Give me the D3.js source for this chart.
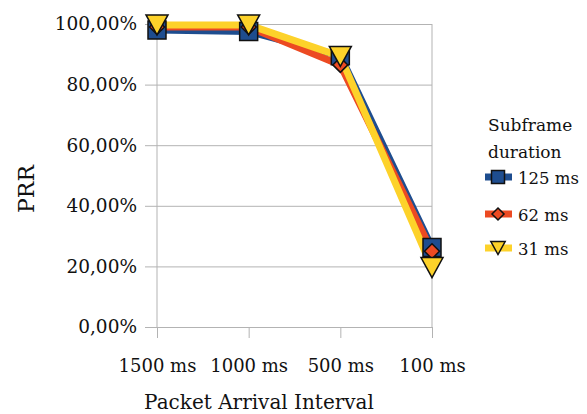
<!DOCTYPE html>
<html><head><meta charset="utf-8">
<script src="https://cdn.jsdelivr.net/npm/d3@7"></script>
<style>body{margin:0;background:#fff}svg{display:block}text{font-family:"DejaVu Serif",serif;fill:#111}</style>
</head><body>
<svg id="c" width="587" height="414"></svg>
<script>
const categories = ["1500 ms","1000 ms","500 ms","100 ms"];
const yTicks = [0,0.2,0.4,0.6,0.8,1.0];
const seriesNames = ["125 ms","62 ms","31 ms"];
const s125 = [0.980, 0.975, 0.895, 0.262];
const s62  = [0.990, 0.990, 0.865, 0.250];
const s31  = [0.997, 0.997, 0.893, 0.196];
const colors = ["#1e4d8f","#ec4a22","#fdd22a"];
const shapes = ["square","diamond","triangle"];
const allSeries = [s125, s62, s31];

const svg = d3.select("#c");
const x = d3.scalePoint().domain(categories).range([157, 432]).padding(0);
const y = d3.scaleLinear().domain([0,1]).range([327, 24]);
const fmt = v => d3.format(".2f")(v*100).replace(".", ",") + "%";

const yAx = d3.axisLeft(y).tickValues(yTicks).tickSize(12).tickFormat(fmt).tickPadding(8);
const gy = svg.append("g").attr("transform","translate(157,0)").call(yAx);
gy.select(".domain").remove();
gy.selectAll(".tick line").attr("x2", 432-157).attr("x1",-12).attr("stroke","#b3b3b3");
gy.selectAll(".tick text").style("font-size","18.5px").style("fill","#111");

svg.append("line").attr("x1",157).attr("x2",157).attr("y1",24).attr("y2",327).attr("stroke","#b3b3b3");
svg.append("line").attr("x1",432).attr("x2",432).attr("y1",24).attr("y2",327).attr("stroke","#b3b3b3");

const xAx = d3.axisBottom(x).tickSize(11).tickPadding(21);
const gx = svg.append("g").attr("transform","translate(0,327)").call(xAx);
gx.select(".domain").remove();
gx.selectAll(".tick line").attr("stroke","#b3b3b3");
gx.selectAll(".tick text").style("font-size","18px").style("fill","#111");

function symbolPath(shape, s){
  if(shape==="square") return `M${-s/2},${-s/2}h${s}v${s}h${-s}Z`;
  if(shape==="diamond") return `M0,${-s/2}L${s/2},0L0,${s/2}L${-s/2},0Z`;
  return `M${-s*0.55},${-s/2}L${s*0.55},${-s/2}L0,${s/2}Z`;
}
const sizes = [18, 15, 20];

const line = d3.line().x((d,i)=>x(categories[i])).y(d=>y(d));
allSeries.forEach((s,k)=>{
  svg.append("path").attr("d", line(s)).attr("fill","none").attr("stroke",colors[k])
    .attr("stroke-width",7).attr("stroke-linejoin","round").attr("stroke-linecap","round");
});
allSeries.forEach((s,k)=>{
  svg.append("g").selectAll("path").data(s).join("path")
    .attr("transform",(d,i)=>`translate(${x(categories[i])},${y(d)})`)
    .attr("d", symbolPath(shapes[k], sizes[k]))
    .attr("fill",colors[k]).attr("stroke","#111").attr("stroke-width",1.5);
});

svg.append("text").attr("x",259).attr("y",409).attr("text-anchor","middle").style("font-size","20px").text("Packet Arrival Interval");
svg.append("text").attr("transform","translate(34,189) rotate(-90)").attr("text-anchor","middle").style("font-size","22px").text("PRR");

svg.append("text").attr("x",488).attr("y",131).style("font-size","17px").text("Subframe");
svg.append("text").attr("x",488).attr("y",158).style("font-size","17px").text("duration");
const legY = [177, 214, 248];
const legSizes = [13, 12, 13];
seriesNames.forEach((n,k)=>{
  const g = svg.append("g").attr("transform",`translate(498,${legY[k]})`);
  g.append("line").attr("x1",-13).attr("x2",14).attr("stroke",colors[k]).attr("stroke-width",7);
  g.append("path").attr("d",symbolPath(shapes[k], legSizes[k])).attr("fill",colors[k]).attr("stroke","#111").attr("stroke-width",1.5);
  svg.append("text").attr("x",518).attr("y",legY[k]+7).style("font-size","16.5px").text(n);
});
</script>
</body></html>
